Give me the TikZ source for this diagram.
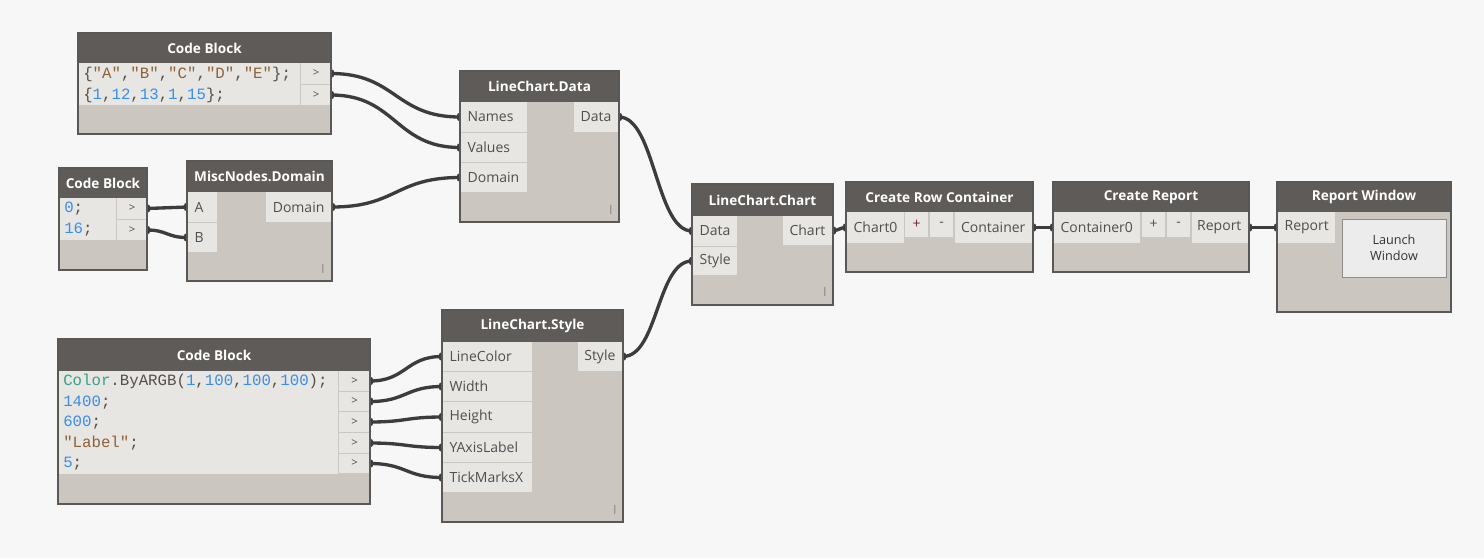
\documentclass[tikz,border=0pt]{standalone}
\usepackage{fontspec}
\setmainfont{Open Sans}
\newfontfamily\codefont{Liberation Mono}

\pgfdeclarelayer{canvas}
\pgfdeclarelayer{wires}
\pgfsetlayers{canvas,wires,main}

\definecolor{bgc}{HTML}{F7F7F7}
\definecolor{headc}{HTML}{5E5B58}
\definecolor{bodyc}{HTML}{CBC7C0}
\definecolor{cellc}{HTML}{E8E6E2}
\definecolor{edgec}{HTML}{5A5856}
\definecolor{labc}{HTML}{4F4F4F}
\definecolor{wirec}{HTML}{3C3C3C}
\definecolor{cnum}{HTML}{3A8EE6}
\definecolor{cstr}{HTML}{8C6239}
\definecolor{cfun}{HTML}{3A9E8E}
\definecolor{ctxt}{HTML}{554F49}
\definecolor{btnc}{HTML}{ECECEC}
\definecolor{btnedge}{HTML}{8C8C8C}
\definecolor{plusred}{HTML}{6E2A2A}
\definecolor{lacec}{HTML}{8A8782}

\tikzset{
  box/.style 2 args={anchor=north west, minimum width=#1*0.75pt,
    minimum height=#2*0.75pt, inner sep=0pt, outer sep=0pt},
  nbody/.style={fill=bodyc},
  nhead/.style={fill=headc},
  frame/.style={draw=edgec, line width=0.9pt},
  title/.style={text=white, font=\bfseries\fontsize{10.2}{12}\selectfont},
  pcell/.style={fill=cellc},
  plabel/.style={text=labc, font=\fontsize{10.5}{12}\selectfont, inner sep=0pt},
  code/.style={font=\codefont\fontsize{11.8}{15}\selectfont, text=ctxt,
    inner sep=0pt, anchor=west},
  gt/.style={font=\fontsize{8.5}{10}\selectfont, text=labc, inner sep=0pt},
  lacing/.style={font=\fontsize{9.5}{10}\selectfont, text=lacec, inner sep=0pt},
  wire/.style={draw=wirec, line width=2.5pt},
}

% a node body with its dark title bar
\newcommand\dynnode[7]{%
  \node[nbody, box={#4}{#5}] (#1) at (#2,#3) {};
  \node[nhead, box={#4}{#6}] (#1-h) at (#2,#3) {};
  \node[title] (#1-t) at (#1-h.center) {#7};}
% input / output port cells with their labels
\newcommand\inport[6]{%
  \node[pcell, box={#4}{#5}] (#1) at (#2,#3) {};
  \node[plabel, anchor=west] (#1-l) at ([xshift=5.5pt]#1.west) {#6};}
\newcommand\outport[6]{%
  \node[pcell, box={#4}{#5}] (#1) at (#2,#3) {};
  \node[plabel, anchor=east] (#1-l) at ([xshift=-5.5pt]#1.east) {#6};}
% code block output cell with its ">" mark
\newcommand\codeout[5]{%
  \node[pcell, box={#4}{#5}] (#1) at (#2,#3) {};
  \node[gt] (#1-g) at (#1.center) {>};}
% small button cell (+ / -)
\newcommand\btncell[7]{%
  \node[pcell, box={#4}{#5}] (#1) at (#2,#3) {};
  \node[plabel, text=#6] (#1-l) at (#1.center) {#7};}
\newcommand\frameit[1]{\draw[frame] (#1.north west) rectangle (#1.south east);}
% connector with port bumps at both ends
\newcommand\wire[3]{%
  \draw[wire] (#1) .. controls +(#3,0) and +(-#3,0) .. (#2);
  \fill[wirec] (#1) ellipse [x radius=2.6pt, y radius=3.4pt];
  \fill[wirec] (#2) ellipse [x radius=2.6pt, y radius=3.4pt];}

\newcommand\cs[1]{\textcolor{cstr}{#1}}
\newcommand\cn[1]{\textcolor{cnum}{#1}}

\begin{document}
\begin{tikzpicture}[x=0.75pt,y=-0.75pt]
\begin{pgfonlayer}{canvas}
  \fill[bgc] (0,0) rectangle (1484,558);
\end{pgfonlayer}
\useasboundingbox (0,0) rectangle (1484,558);

% ---- Code Block (names / values)
\dynnode{cbA}{78}{33}{253}{101}{30}{Code Block}
\node[pcell, box={222}{42}] (cbA-code) at (78,63) {};
\codeout{cbA-o1}{301}{63}{30}{21}
\codeout{cbA-o2}{301}{85}{30}{20}
\node[code] (cbA-c1) at (83,74) {\{\cs{"A"},\cs{"B"},\cs{"C"},\cs{"D"},\cs{"E"}\};};
\node[code] (cbA-c2) at (83,95) {\{\cn{1},\cn{12},\cn{13},\cn{1},\cn{15}\};};

% ---- Code Block (domain bounds)
\dynnode{cbB}{59}{168}{88}{102}{30}{Code Block}
\node[pcell, box={57}{42}] (cbB-code) at (59,198) {};
\codeout{cbB-o1}{117}{198}{30}{21}
\codeout{cbB-o2}{117}{220}{30}{20}
\node[code] (cbB-c1) at (64,209) {\cn{0};};
\node[code] (cbB-c2) at (64,230) {\cn{16};};

% ---- MiscNodes.Domain
\dynnode{dom}{187}{161}{145}{120}{31}{MiscNodes.Domain}
\inport{dom-a}{187}{192}{30}{30}{A}
\inport{dom-b}{187}{223}{30}{29}{B}
\outport{dom-out}{266}{192}{66}{30}{Domain}
\node[lacing] (dom-i) at (323,269) {I};

% ---- LineChart.Data
\dynnode{lcd}{460}{71}{159}{151}{31}{LineChart.Data}
\inport{lcd-names}{460}{102}{67}{30}{Names}
\inport{lcd-values}{460}{133}{67}{29}{Values}
\inport{lcd-domain}{460}{163}{67}{29}{Domain}
\outport{lcd-data}{574}{102}{45}{30}{Data}
\node[lacing] (lcd-i) at (611,210) {I};

% ---- Code Block (style values)
\dynnode{cbC}{58}{339}{312}{165}{32}{Code Block}
\node[pcell, box={280}{103}] (cbC-code) at (58,371) {};
\codeout{cbC-o1}{339}{371}{31}{20}
\codeout{cbC-o2}{339}{392}{31}{19}
\codeout{cbC-o3}{339}{412}{31}{20}
\codeout{cbC-o4}{339}{433}{31}{20}
\codeout{cbC-o5}{339}{454}{31}{19}
\node[code] (cbC-c1) at (63,381.5) {\textcolor{cfun}{Color}.ByARGB(\cn{1},\cn{100},\cn{100},\cn{100});};
\node[code] (cbC-c2) at (63,402.5) {\cn{1400};};
\node[code] (cbC-c3) at (63,422.5) {\cn{600};};
\node[code] (cbC-c4) at (63,443) {\cs{"Label"};};
\node[code] (cbC-c5) at (63,463.5) {\cn{5};};

% ---- LineChart.Style
\dynnode{lcs}{442}{310}{181}{212}{32}{LineChart.Style}
\inport{lcs-color}{442}{342}{90}{29}{LineColor}
\inport{lcs-width}{442}{372}{90}{29}{Width}
\inport{lcs-height}{442}{402}{90}{30}{Height}
\inport{lcs-ylabel}{442}{433}{90}{29}{YAxisLabel}
\inport{lcs-ticks}{442}{463}{90}{29}{TickMarksX}
\outport{lcs-style}{578}{342}{45}{29}{Style}
\node[lacing] (lcs-i) at (615,510) {I};

% ---- LineChart.Chart
\dynnode{lcc}{692}{184}{141}{121}{32}{LineChart.Chart}
\inport{lcc-data}{692}{216}{45}{30}{Data}
\inport{lcc-style}{692}{247}{45}{28}{Style}
\outport{lcc-chart}{783}{216}{50}{29}{Chart}
\node[lacing] (lcc-i) at (825,292) {I};

% ---- Create Row Container
\dynnode{crc}{846}{182}{187}{90}{30}{Create Row Container}
\inport{crc-in}{846}{212}{58}{31}{Chart0}
\btncell{crc-plus}{905}{212}{23}{25}{plusred}{+}
\btncell{crc-minus}{930}{212}{23}{25}{labc}{-}
\outport{crc-out}{955}{212}{78}{31}{Container}

% ---- Create Report
\dynnode{crep}{1053}{182}{196}{90}{30}{Create Report}
\inport{crep-in}{1053}{212}{87}{31}{Container0}
\btncell{crep-plus}{1142}{212}{23}{25}{labc}{+}
\btncell{crep-minus}{1167}{212}{23}{25}{labc}{-}
\outport{crep-out}{1192}{212}{57}{31}{Report}

% ---- Report Window
\dynnode{rwin}{1277}{182}{174}{130}{30}{Report Window}
\inport{rwin-in}{1277}{212}{58}{31}{Report}
\node[box={104}{58}, draw=btnedge, fill=btnc, align=center, text=black!80,
  font=\fontsize{9.5}{12}\selectfont] (rwin-btn) at (1342,219) {Launch\\Window};

% node outlines
\foreach \n in {cbA,cbB,dom,lcd,cbC,lcs,lcc,crc,crep,rwin} {\frameit{\n}}

% ---- connectors
\begin{pgfonlayer}{wires}
  \wire{cbA-o1.east}{lcd-names.west}{65}
  \wire{cbA-o2.east}{lcd-values.west}{65}
  \wire{cbB-o1.east}{dom-a.west}{20}
  \wire{cbB-o2.east}{dom-b.west}{20}
  \wire{dom-out.east}{lcd-domain.west}{65}
  \wire{lcd-data.east}{lcc-data.west}{36}
  \wire{cbC-o1.east}{lcs-color.west}{36}
  \wire{cbC-o2.east}{lcs-width.west}{36}
  \wire{cbC-o3.east}{lcs-height.west}{36}
  \wire{cbC-o4.east}{lcs-ylabel.west}{36}
  \wire{cbC-o5.east}{lcs-ticks.west}{36}
  \wire{lcs-style.east}{lcc-style.west}{35}
  \wire{lcc-chart.east}{crc-in.west}{6}
  \wire{crc-out.east}{crep-in.west}{10}
  \wire{crep-out.east}{rwin-in.west}{14}
\end{pgfonlayer}
\end{tikzpicture}
\end{document}
